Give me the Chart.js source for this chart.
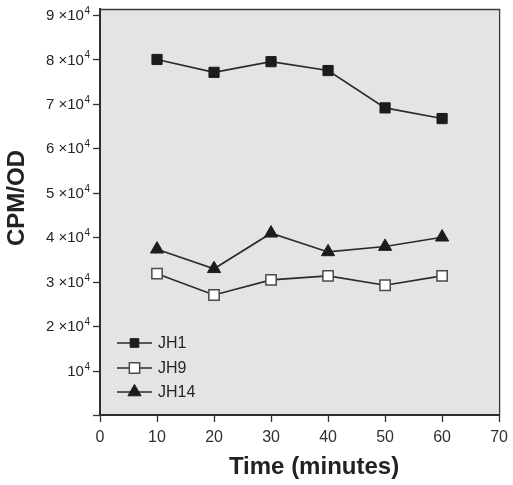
<!DOCTYPE html>
<html>
<head>
<meta charset="utf-8">
<script src="https://cdn.jsdelivr.net/npm/chart.js@4/dist/chart.umd.min.js"></script>
<style>
  html, body { margin: 0; padding: 0; background: #ffffff; }
  canvas { display: block; }
</style>
</head>
<body>
<canvas id="c" width="513" height="485"></canvas>
<script>
// ---- data ----
const times = [10, 20, 30, 40, 50, 60];
const jh1  = [80000, 77100, 79500, 77500, 69100, 66700];
const jh9  = [31800, 27000, 30400, 31300, 29200, 31300];
const jh14 = [37300, 32900, 40900, 36700, 37900, 40000];
const seriesNames = ['JH1', 'JH9', 'JH14'];
const yTickValues = [0, 10000, 20000, 30000, 40000, 50000, 60000, 70000, 80000, 90000];
const xTickValues = [0, 10, 20, 30, 40, 50, 60, 70];
const xTitle = 'Time (minutes)';
const yTitle = 'CPM/OD';

const FONT = "'Liberation Sans', Arial, Helvetica, sans-serif";
const INK = '#262626';

function pts(vals) { return times.map((t, i) => ({ x: t, y: vals[i] })); }

const styles = [
  { pointStyle: 'rect', pointRadius: 7.2, pointBackgroundColor: '#1c1c1c', pointBorderColor: '#1c1c1c', pointBorderWidth: 1 },
  { pointStyle: 'rect', pointRadius: 7.3, pointBackgroundColor: '#ffffff', pointBorderColor: '#4a4a4a', pointBorderWidth: 1.5 },
  { pointStyle: 'triangle', pointRadius: 7.6, pointBackgroundColor: '#1c1c1c', pointBorderColor: '#1c1c1c', pointBorderWidth: 1 }
];
const allVals = [jh1, jh9, jh14];

const datasets = allVals.map((v, i) => Object.assign({
  label: seriesNames[i],
  data: pts(v),
  borderColor: '#2a2a2a',
  borderWidth: 1.6,
  fill: false,
  tension: 0
}, styles[i]));

const decor = {
  id: 'decor',
  beforeDraw(chart) {
    const { ctx, chartArea: a } = chart;
    ctx.save();
    ctx.fillStyle = '#ffffff';
    ctx.fillRect(0, 0, chart.width, chart.height);
    ctx.fillStyle = '#e4e4e4';
    ctx.fillRect(a.left, a.top, a.right - a.left, a.bottom - a.top);
    ctx.restore();
  },
  afterDatasetsDraw(chart) {
    const { ctx, chartArea: a } = chart;
    ctx.save();
    // top and right frame
    ctx.strokeStyle = '#3a3a3a';
    ctx.lineWidth = 1.3;
    ctx.beginPath();
    ctx.moveTo(a.left, a.top + 0.5);
    ctx.lineTo(a.right + 0.5, a.top + 0.5);
    ctx.lineTo(a.right + 0.5, a.bottom);
    ctx.stroke();

    // legend inside plot
    const lx0 = 117, lx1 = 152, mx = 134.5, tx = 158;
    const ly = [343, 368, 392];
    chart.data.datasets.forEach((ds, i) => {
      const y = ly[i];
      ctx.strokeStyle = ds.borderColor;
      ctx.lineWidth = ds.borderWidth;
      ctx.beginPath();
      ctx.moveTo(lx0, y); ctx.lineTo(lx1, y);
      ctx.stroke();
      const opts = { pointStyle: ds.pointStyle, radius: ds.pointRadius * (i === 0 ? 0.85 : 1), rotation: 0, borderWidth: ds.pointBorderWidth };
      ctx.fillStyle = ds.pointBackgroundColor;
      ctx.strokeStyle = ds.pointBorderColor;
      ctx.lineWidth = ds.pointBorderWidth;
      if (Chart.helpers && Chart.helpers.drawPoint) {
        Chart.helpers.drawPoint(ctx, opts, mx, y);
      }
      ctx.fillStyle = INK;
      ctx.font = '16px ' + FONT;
      ctx.textAlign = 'left';
      ctx.textBaseline = 'middle';
      ctx.fillText(ds.label, tx, y + 1);
    });
    ctx.restore();
  },
  afterDraw(chart) {
    const { ctx } = chart;
    const ys = chart.scales.y;
    const xs = chart.scales.x;
    ctx.save();
    // tick marks (outside) at the library's tick positions
    ctx.strokeStyle = '#333333';
    ctx.lineWidth = 1.3;
    ys.ticks.forEach(t => {
      const y = Math.round(ys.getPixelForValue(t.value)) + 0.5;
      ctx.beginPath(); ctx.moveTo(ys.right - 7, y); ctx.lineTo(ys.right, y); ctx.stroke();
    });
    xs.ticks.forEach(t => {
      const x = Math.round(xs.getPixelForValue(t.value)) + 0.5;
      ctx.beginPath(); ctx.moveTo(x, xs.top); ctx.lineTo(x, xs.top + 7); ctx.stroke();
    });
    ctx.fillStyle = INK;
    // y tick labels with superscript exponent
    ys.ticks.forEach(t => {
      if (t.value <= 0) return;
      const y = ys.getPixelForValue(t.value);
      const n = Math.round(t.value / 10000);
      const main = n === 1 ? '10' : n + ' \u00d710';
      const rightEdge = 90;
      ctx.font = '10px ' + FONT;
      ctx.textAlign = 'right';
      ctx.textBaseline = 'alphabetic';
      const sw = ctx.measureText('4').width;
      ctx.fillText('4', rightEdge, y - 1);
      ctx.font = '15px ' + FONT;
      ctx.textBaseline = 'middle';
      ctx.fillText(main, rightEdge - sw - 0.5, y + 1);
    });
    // axis titles
    ctx.fillStyle = '#222222';
    ctx.font = 'bold 24px ' + FONT;
    ctx.textAlign = 'center';
    ctx.textBaseline = 'alphabetic';
    ctx.fillText(xTitle, 314, 474);
    ctx.translate(16, 198);
    ctx.rotate(-Math.PI / 2);
    ctx.textBaseline = 'middle';
    ctx.fillText(yTitle, 0, 1);
    ctx.restore();
  }
};

new Chart(document.getElementById('c'), {
  type: 'line',
  data: { datasets },
  options: {
    responsive: false,
    animation: false,
    devicePixelRatio: 1,
    layout: { padding: { top: 9, right: 4, left: 0, bottom: 0 } },
    plugins: { legend: { display: false }, tooltip: { enabled: false } },
    scales: {
      x: {
        type: 'linear',
        min: 0, max: 70,
        afterBuildTicks(s) { s.ticks = xTickValues.map(v => ({ value: v })); },
        ticks: { color: '#303030', font: { family: FONT, size: 16 }, padding: 5, maxRotation: 0, autoSkip: false },
        grid: { display: false },
        border: { display: true, color: '#2e2e2e', width: 2 },
        afterFit(s) { s.height = 70; }
      },
      y: {
        type: 'linear',
        min: 0, max: 91350,
        afterBuildTicks(s) { s.ticks = yTickValues.map(v => ({ value: v })); },
        ticks: { display: false },
        grid: { display: false },
        border: { display: true, color: '#2e2e2e', width: 2 },
        afterFit(s) { s.width = 100; }
      }
    }
  },
  plugins: [decor]
});
</script>
</body>
</html>
